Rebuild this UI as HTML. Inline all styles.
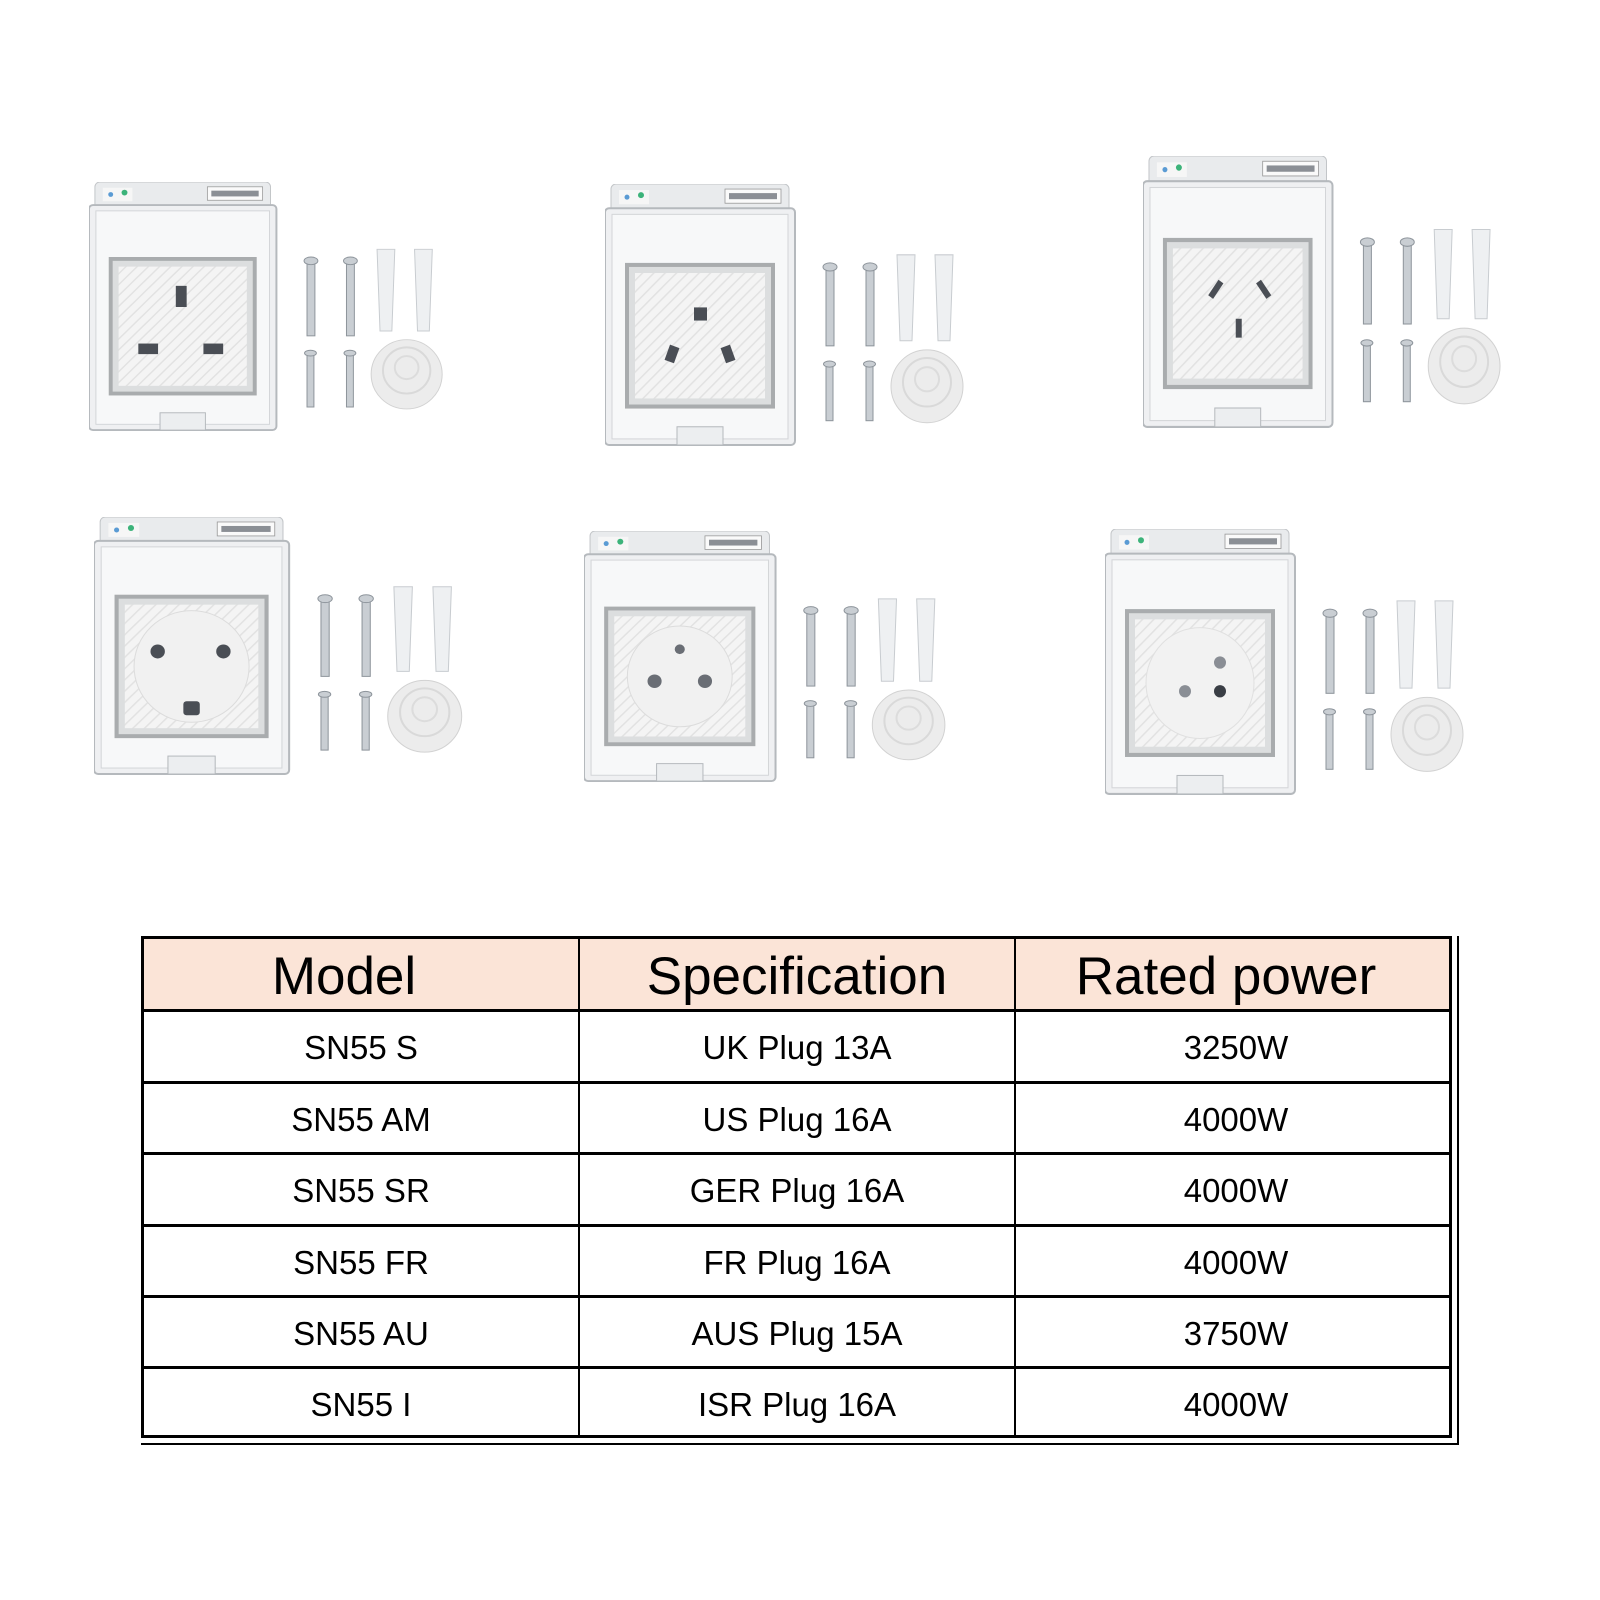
<!DOCTYPE html>
<html><head><meta charset="utf-8">
<style>
body{margin:0;width:1600px;height:1600px;background:#fff;position:relative;overflow:hidden;font-family:"Liberation Sans",Arial,sans-serif}
.u{position:absolute}
.t{position:absolute;color:#000;text-align:center}
.h{font-size:53px;height:73px;line-height:78px}
.c{font-size:33px;height:71px;line-height:73px}
.hl{position:absolute;background:#000}
</style></head><body>
<svg width="0" height="0" style="position:absolute">
<defs>
<pattern id="st" width="8" height="8" patternUnits="userSpaceOnUse" patternTransform="rotate(45)"><rect width="8" height="8" fill="#f4f4f4"/><rect width="1.5" height="8" fill="#e2e2e2"/></pattern>
<g id="unit">
<rect x="6" y="0" width="178" height="34" rx="5" fill="#e9ebed" stroke="#c2c5c8"/>
<rect x="14" y="6" width="30" height="14" fill="#f6f6f6"/><circle cx="22" cy="13" r="2.5" fill="#5a9bd4"/><circle cx="36" cy="11" r="3" fill="#3cb37a"/>
<rect x="120" y="5" width="56" height="14" fill="#fafafa" stroke="#999" stroke-width="0.8"/><rect x="124" y="9" width="48" height="6" fill="#8b8f95"/>
<rect x="0" y="24" width="190" height="234" rx="4" fill="#eff0f2" stroke="#b5b9bd" stroke-width="2"/>
<rect x="7" y="30" width="176" height="222" fill="#f7f8f9" stroke="#d3d5d8"/>
<rect x="22" y="80" width="146" height="140" fill="#dcdedf" stroke="#a9acae" stroke-width="4"/>
<rect x="30" y="88" width="130" height="124" fill="url(#st)"/>
<rect x="72" y="240" width="46" height="18" fill="#eceef0" stroke="#b5b9bd"/>
<g fill="#c9ced3" stroke="#8d949b" stroke-width="1">
<rect x="221" y="82" width="8" height="78"/><ellipse cx="225" cy="82" rx="7" ry="4"/>
<rect x="261" y="82" width="8" height="78"/><ellipse cx="265" cy="82" rx="7" ry="4"/>
<rect x="221" y="178" width="7" height="56"/><ellipse cx="224.5" cy="178" rx="6" ry="3"/>
<rect x="261" y="178" width="7" height="56"/><ellipse cx="264.5" cy="178" rx="6" ry="3"/>
</g>
<g fill="#eef0f2" stroke="#c8ccd0">
<path d="M292 70 h18 l-3 85 h-12z"/><path d="M330 70 h18 l-3 85 h-12z"/>
</g>
<circle cx="322" cy="200" r="36" fill="#ececec" stroke="#d2d2d2"/>
<circle cx="322" cy="196" r="24" fill="none" stroke="#d9d9d9" stroke-width="2"/>
<circle cx="322" cy="193" r="12" fill="none" stroke="#dcdcdc" stroke-width="2"/>
</g>
</defs>
</svg>

<!-- unit 1 UK -->
<svg class="u" style="left:89px;top:182px" width="365" height="250" viewBox="0 0 370 260" preserveAspectRatio="none">
<use href="#unit"/>
<g fill="#4a4e55"><rect x="88" y="108" width="11" height="22"/><rect x="50" y="168" width="20" height="11"/><rect x="116" y="168" width="20" height="11"/></g>
</svg>
<!-- unit 2 US -->
<svg class="u" style="left:605px;top:184px" width="370" height="263" viewBox="0 0 370 260" preserveAspectRatio="none">
<use href="#unit"/>
<g fill="#4a4e55"><rect x="89" y="122" width="13" height="13"/><rect x="62" y="160" width="10" height="16" transform="rotate(20 67 168)"/><rect x="118" y="160" width="10" height="16" transform="rotate(-20 123 168)"/></g>
</svg>
<!-- unit 3 AU -->
<svg class="u" style="left:1143px;top:156px" width="369" height="273" viewBox="0 0 370 260" preserveAspectRatio="none">
<use href="#unit"/>
<g fill="#4a4e55"><rect x="70" y="118" width="6" height="18" transform="rotate(35 73 127)"/><rect x="118" y="118" width="6" height="18" transform="rotate(-35 121 127)"/><rect x="93" y="155" width="6" height="18"/></g>
</svg>
<!-- unit 4 GER -->
<svg class="u" style="left:94px;top:517px" width="380" height="259" viewBox="0 0 370 260" preserveAspectRatio="none">
<use href="#unit"/>
<circle cx="95" cy="150" r="56" fill="#f1f1f1" stroke="#dcdcdc"/>
<g fill="#4a4e55"><circle cx="62" cy="135" r="7"/><circle cx="126" cy="135" r="7"/><rect x="87" y="185" width="16" height="14" rx="3"/></g>
</svg>
<!-- unit 5 FR -->
<svg class="u" style="left:584px;top:531px" width="373" height="252" viewBox="0 0 370 260" preserveAspectRatio="none">
<use href="#unit"/>
<circle cx="95" cy="150" r="52" fill="#f1f1f1" stroke="#dcdcdc"/>
<g fill="#6a6e75"><circle cx="95" cy="122" r="5"/><circle cx="70" cy="155" r="7"/><circle cx="120" cy="155" r="7"/></g>
</svg>
<!-- unit 6 ISR -->
<svg class="u" style="left:1105px;top:529px" width="370" height="267" viewBox="0 0 370 260" preserveAspectRatio="none">
<use href="#unit"/>
<circle cx="95" cy="150" r="54" fill="#f2f2f2" stroke="#e0e0e0"/>
<g fill="#8a8e95"><circle cx="115" cy="130" r="6"/><circle cx="80" cy="158" r="6"/><circle cx="115" cy="158" r="6" fill="#3a3e45"/></g>
</svg>

<!-- table -->
<div style="position:absolute;left:141px;top:937px;width:1309px;height:73px;background:#fbe4d7"></div>
<div class="hl" style="left:141px;top:936px;width:1311px;height:3px"></div>
<div class="hl" style="left:141px;top:1009px;width:1311px;height:3px"></div>
<div class="hl" style="left:141px;top:1081px;width:1311px;height:3px"></div>
<div class="hl" style="left:141px;top:1152px;width:1311px;height:3px"></div>
<div class="hl" style="left:141px;top:1224px;width:1311px;height:3px"></div>
<div class="hl" style="left:141px;top:1295px;width:1311px;height:3px"></div>
<div class="hl" style="left:141px;top:1366px;width:1311px;height:3px"></div>
<div class="hl" style="left:141px;top:1435px;width:1311px;height:3px"></div>
<div class="hl" style="left:141px;top:1443px;width:1318px;height:1.5px"></div>
<div class="hl" style="left:141px;top:936px;width:3px;height:502px"></div>
<div class="hl" style="left:578px;top:936px;width:2px;height:502px"></div>
<div class="hl" style="left:1014px;top:936px;width:2px;height:502px"></div>
<div class="hl" style="left:1449px;top:936px;width:3px;height:502px"></div>
<div class="hl" style="left:1457px;top:936px;width:1.5px;height:509px"></div>

<div class="t h" style="left:144px;top:938px;width:400px">Model</div>
<div class="t h" style="left:580px;top:938px;width:434px">Specification</div>
<div class="t h" style="left:1016px;top:938px;width:420px">Rated power</div>

<div class="t c" style="left:144px;top:1011px;width:434px">SN55 S</div>
<div class="t c" style="left:580px;top:1011px;width:434px">UK Plug 13A</div>
<div class="t c" style="left:1016px;top:1011px;width:440px">3250W</div>
<div class="t c" style="left:144px;top:1083px;width:434px">SN55 AM</div>
<div class="t c" style="left:580px;top:1083px;width:434px">US Plug 16A</div>
<div class="t c" style="left:1016px;top:1083px;width:440px">4000W</div>
<div class="t c" style="left:144px;top:1154px;width:434px">SN55 SR</div>
<div class="t c" style="left:580px;top:1154px;width:434px">GER Plug 16A</div>
<div class="t c" style="left:1016px;top:1154px;width:440px">4000W</div>
<div class="t c" style="left:144px;top:1226px;width:434px">SN55 FR</div>
<div class="t c" style="left:580px;top:1226px;width:434px">FR Plug 16A</div>
<div class="t c" style="left:1016px;top:1226px;width:440px">4000W</div>
<div class="t c" style="left:144px;top:1297px;width:434px">SN55 AU</div>
<div class="t c" style="left:580px;top:1297px;width:434px">AUS Plug 15A</div>
<div class="t c" style="left:1016px;top:1297px;width:440px">3750W</div>
<div class="t c" style="left:144px;top:1368px;width:434px">SN55 I</div>
<div class="t c" style="left:580px;top:1368px;width:434px">ISR Plug 16A</div>
<div class="t c" style="left:1016px;top:1368px;width:440px">4000W</div>
</body></html>
